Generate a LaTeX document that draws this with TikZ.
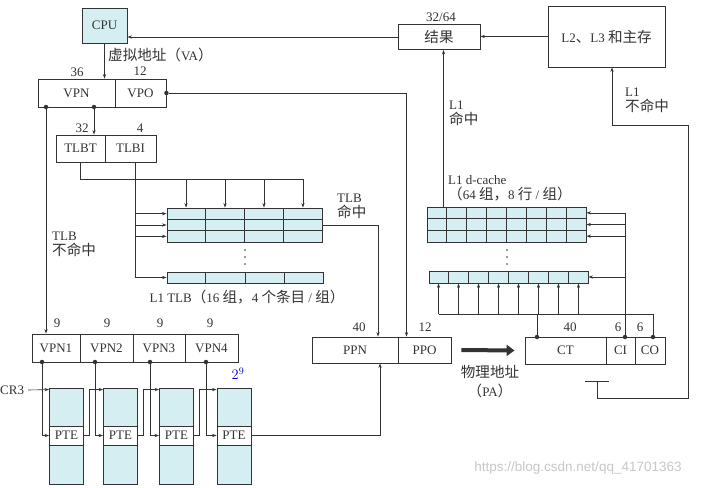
\documentclass[tikz,border=0pt]{standalone}
\usepackage{fontspec}
\setmainfont{Liberation Serif}
\newfontfamily\cjk[Scale=1.12]{Noto Sans CJK SC}
\newfontfamily\wmfont{Liberation Sans}
\newcommand{\zh}[1]{{\cjk #1}}
\usetikzlibrary{arrows.meta,calc}
\definecolor{cyanfill}{HTML}{D4EEF1}
\definecolor{ink}{HTML}{333333}
\begin{document}
\begin{tikzpicture}[x=1pt,y=-1pt,
  every node/.style={font=\fontsize{13}{15}\selectfont, text=ink},
  box/.style={draw=ink, line width=0.9pt, inner sep=0pt, anchor=center},
  cell/.style={box, fill=cyanfill},
  conn/.style={draw=ink, line width=0.6pt},
  arr/.style={conn, -{Stealth[length=4.5pt,width=3.2pt]}},
  dot/.style={circle, fill=ink, inner sep=0pt, minimum size=4.5pt},
  sdot/.style={circle, fill=ink, inner sep=0pt, minimum size=1.6pt},
  lbl/.style={inner sep=0pt},
]
\useasboundingbox (0,0) rectangle (709,487);
\fill[white] (0,0) rectangle (709,487);

% ---------- CPU and virtual address ----------
\node[cell, minimum width=45pt, minimum height=35pt] (cpu) at (104.5,25.5) {CPU};
\node[lbl, anchor=west] (va) at (108,55) {\zh{虚拟地址（}VA\zh{）}};
\node[box, minimum width=77pt, minimum height=28pt] (vpn) at (76.5,93) {VPN};
\node[box, minimum width=51pt, minimum height=28pt] (vpo) at (140.5,93) {VPO};
\node[lbl] at (77,72) {36};
\node[lbl] at (140,71) {12};

% ---------- TLBT / TLBI ----------
\node[box, minimum width=49pt, minimum height=27pt] (tlbt) at (80.5,148.5) {TLBT};
\node[box, minimum width=51pt, minimum height=27pt] (tlbi) at (130.5,148.5) {TLBI};
\node[lbl] at (82,128) {32};
\node[lbl] at (140,128) {4};

% ---------- L1 TLB ----------
\foreach \n/\y in {1/213.67,2/225,3/236.33}
  \node[cell, minimum width=155pt, minimum height=11.33pt] (tlbr\n) at (244.5,\y) {};
\node[cell, minimum width=156pt, minimum height=11pt] (tlbr4) at (245,277.5) {};
\foreach \i in {1,2,3} {
  \draw[box] ($(tlbr1.north west)!\i/4!(tlbr1.north east)$) -- ($(tlbr3.south west)!\i/4!(tlbr3.south east)$);
  \draw[box] ($(tlbr4.north west)!\i/4!(tlbr4.north east)$) -- ($(tlbr4.south west)!\i/4!(tlbr4.south east)$);
}
\foreach \y in {250,257,264} \node[sdot] at (245,\y) {};
\node[lbl] at (247,297) {L1 TLB\zh{（}16 \zh{组，}4 \zh{个条目} / \zh{组）}};
\node[lbl, anchor=west, align=left] at (52,244) {TLB\\\zh{不命中}};
\node[lbl, anchor=west, align=left] at (337,206) {TLB\\\zh{命中}};

% ---------- physical address ----------
\node[box, minimum width=86pt, minimum height=26pt] (ppn) at (355,350) {PPN};
\node[box, minimum width=53pt, minimum height=26pt] (ppo) at (424.5,350) {PPO};
\node[lbl] at (359,327) {40};
\node[lbl] at (425,327) {12};

% ---------- cache address ----------
\node[box, minimum width=81pt, minimum height=27pt] (ct) at (565.5,350.5) {CT};
\node[box, minimum width=29pt, minimum height=27pt] (ci) at (620.5,350.5) {CI};
\node[box, minimum width=30pt, minimum height=27pt] (co) at (650,350.5) {CO};
\node[lbl] at (570,327) {40};
\node[lbl] at (618,327) {6};
\node[lbl] at (640,327) {6};
\node[lbl] at (490,372) {\zh{物理地址}};
\node[lbl] at (490,391) {\zh{（}PA\zh{）}};

% ---------- L1 d-cache ----------
\foreach \n/\y in {1/212.83,2/224.5,3/236.17}
  \node[cell, minimum width=159pt, minimum height=11.67pt] (cr\n) at (506.5,\y) {};
\node[cell, minimum width=159pt, minimum height=12pt] (cr4) at (508.5,277) {};
\foreach \i in {1,...,7} {
  \draw[box] ($(cr1.north west)!\i/8!(cr1.north east)$) -- ($(cr3.south west)!\i/8!(cr3.south east)$);
  \draw[box] ($(cr4.north west)!\i/8!(cr4.north east)$) -- ($(cr4.south west)!\i/8!(cr4.south east)$);
}
\foreach \y in {250,257,264} \node[sdot] at (507,\y) {};
\node[lbl, anchor=west, align=left] at (448,188) {L1 d-cache\\\zh{（}64 \zh{组，}8 \zh{行} / \zh{组）}};

% ---------- result and L2 ----------
\node[box, minimum width=82pt, minimum height=25pt] (result) at (439,37) {\zh{结果}};
\node[lbl] at (441,17) {32/64};
\node[box, minimum width=117pt, minimum height=61pt] (l2) at (606.5,36.5) {L2\zh{、}L3 \zh{和主存}};
\node[lbl, anchor=west, align=left] at (449,113) {L1\\\zh{命中}};
\node[lbl, anchor=west, align=left] at (625,100) {L1\\\zh{不命中}};

% ---------- page tables ----------
\node[box, minimum width=48pt, minimum height=28pt] (vpn1) at (56,348) {VPN1};
\node[box, minimum width=53pt, minimum height=28pt] (vpn2) at (106.5,348) {VPN2};
\node[box, minimum width=52pt, minimum height=28pt] (vpn3) at (159,348) {VPN3};
\node[box, minimum width=53pt, minimum height=28pt] (vpn4) at (211.5,348) {VPN4};
\foreach \x in {57,107,160,210} \node[lbl] at (\x,323) {9};
\foreach \k/\cx in {1/66.5,2/120.5,3/176.5,4/234} {
  \node[cell, minimum width=34pt, minimum height=38pt] (ta\k) at (\cx,407) {};
  \node[box, fill=white, minimum width=34pt, minimum height=19pt] (pte\k) at (\cx,435.5) {PTE};
  \node[cell, minimum width=34pt, minimum height=39pt] (tb\k) at (\cx,464.5) {};
  \coordinate (in\k) at ($(ta\k.north west)+(0,2)$);
}
\node[lbl, anchor=west] (crthree) at (0,390) {CR3};
\node[lbl, text=blue!75!black, font=\itshape\fontsize{14}{14}\selectfont] at (238,374) {$2^9$};
\node[lbl, text=black!22, font=\wmfont\fontsize{13.5}{14}\selectfont] at (578,468) {https://blog.csdn.net/qq\_41701363};

% ---------- dots ----------
\node[dot] (dv1) at (46,107) {};
\node[dot] (dv2) at (94,107) {};
\node[dot] (dvo) at (vpo.east) {};
\node[dot] (dct) at (537,337) {};
\node[dot] (dci) at (625,337) {};
\node[dot] (dco) at (653,337) {};
\foreach \k/\x in {1/42,2/95,3/150,4/206} \node[dot] (dp\k) at (\x,362) {};

% ---------- connectors ----------
\draw[arr] (cpu.south) -- (cpu.south |- vpn.north);
\draw[arr] (result.west) -- (result.west -| cpu.east);
\draw[arr] (l2.west) -- (l2.west -| result.east);
\draw[arr] (dv1) -- (dv1 |- vpn1.north);
\draw[arr] (dv2) -- (dv2 |- tlbt.north);

% TLBT to the TLB columns
\coordinate (yb) at (0,179);
\foreach \i in {1,3,5,7} \coordinate (tc\i) at ($(tlbr1.north west)!\i/8!(tlbr1.north east)$);
\draw[conn] (tlbt.south) |- (tc7 |- yb);
\foreach \i in {1,3,5,7} \draw[arr] (tc\i |- yb) -- (tc\i);

% TLBI to the TLB sets
\coordinate (tis) at ([xshift=5pt]tlbi.south);
\draw[conn] (tis) -- (tis |- tlbr4.west);
\foreach \n in {1,...,4} \draw[arr] (tis |- tlbr\n.west) -- (tlbr\n.west);

% TLB hit and VPO
\coordinate (ppnin) at ([xshift=23pt]ppn.north);
\draw[arr] (tlbr2.east) -| (ppnin);
\coordinate (ppoin) at ([xshift=-18pt]ppo.north);
\draw[arr] (dvo) -| (ppoin);

% physical address arrow
\draw[line width=4pt, draw=ink, -{Triangle[length=8pt,width=11pt]}] ([xshift=10pt]ppo.east) -- ([xshift=-10pt]ct.west);

% cache index / tag wiring
\coordinate (yc) at (0,314);
\foreach \i in {1,3,...,15} {
  \coordinate (cc\i) at ($(cr4.south west)!\i/16!(cr4.south east)$);
  \draw[arr] (cc\i |- yc) -- (cc\i);
}
\draw[conn] (cc1 |- yc) -- (dco |- yc);
\draw[conn] (dct) -- (dct |- yc);
\draw[conn] (dco) -- (dco |- yc);
\draw[conn] (dci) -- (dci |- cr1.east);
\foreach \n in {1,...,4} \draw[arr] (dci |- cr\n.east) -- (cr\n.east);

% L1 hit
\coordinate (hit) at ($(cr1.north west)+(17,0)$);
\draw[arr] (hit) -- (hit |- result.south);

% L1 miss
\coordinate (tbar) at (597,381);
\draw[conn] (585,381) -- (609,381);
\coordinate (l2in) at ([xshift=5.5pt]l2.south);
\draw[arr] (tbar) |- (688,398) -- (688,125) -| (l2in);

% page-table walk
\draw[arr] ([xshift=4pt]crthree.east) -- (in1);
\foreach \k in {1,...,4} \draw[arr] (dp\k) |- (pte\k.west);
\foreach \k/\m in {1/2,2/3,3/4} \draw[arr] (pte\k.east) -- ++(5,0) |- (in\m);
\coordinate (ppnb) at ([xshift=25pt]ppn.south);
\draw[arr] (pte4.east) -| (ppnb);
\end{tikzpicture}
\end{document}
